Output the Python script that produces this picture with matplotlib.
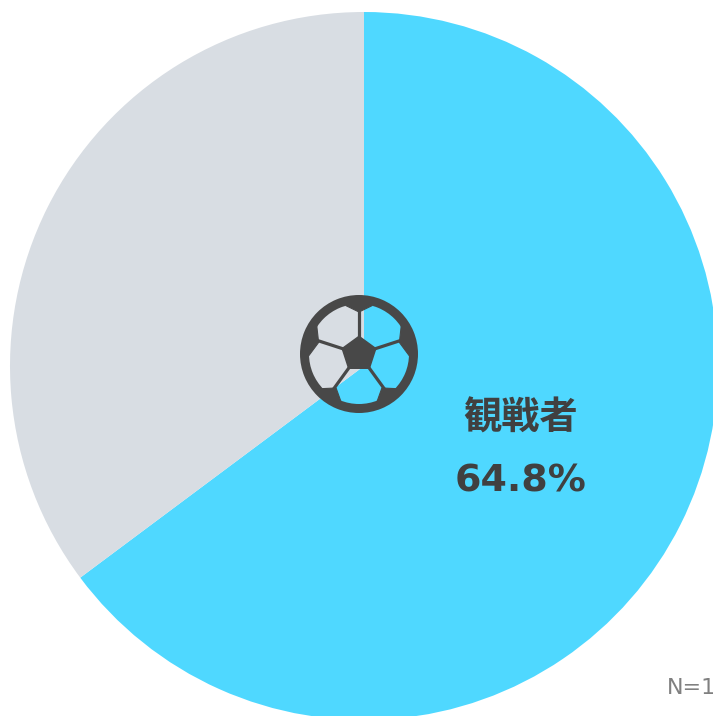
import numpy as np
import matplotlib
matplotlib.use("Agg")
import matplotlib.pyplot as plt
from matplotlib.patches import Wedge, Polygon

W, H = 713, 716
shares = [64.8, 35.2]
slice_colors = ["#4FD8FF", "#D8DDE3"]
slice_label = "観戦者"
value_label = "64.8%"
note = "N=1"
DARK = "#484848"

fig = plt.figure(figsize=(W / 100, H / 100), dpi=100, facecolor="white")
ax = fig.add_axes([0, 0, 1, 1])
ax.pie(shares, colors=slice_colors, startangle=90, counterclock=False,
       center=(364, H - 366), radius=354, wedgeprops=dict(linewidth=0))
ax.set_xlim(0, W)
ax.set_ylim(0, H)
ax.set_aspect("equal")
ax.axis("off")

# Football icon
cx, cy, R = 359, H - 354, 59
def pt(r, deg):
    a = np.deg2rad(deg)
    return (cx + r * np.cos(a), cy + r * np.sin(a))

ax.add_patch(Wedge((cx, cy), R, 0, 360, width=9, facecolor=DARK, linewidth=0, zorder=5))
spots = [90, 18, -54, -126, 162]
# inner point (r, angle) and the two shoulders (r, angle) of each rim patch
rim = {
    90: [(42, 90), (50, 75), (50, 105)],
    18: [(42, 16), (51, 34), (51, -3)],
    -54: [(41, -56), (53, -41), (54, -72)],
    -126: [(41, -124), (54, -108), (53, -139)],
    162: [(42, 164), (51, 146), (51, 183)],
}
ax.add_patch(Polygon([pt(17.5, s) for s in spots], closed=True, facecolor=DARK,
                     edgecolor=DARK, linewidth=1.2, zorder=6))
for s in spots:
    p0, p1 = pt(16, s), pt(44, s)
    ax.plot([p0[0], p1[0]], [p0[1], p1[1]], color=DARK, lw=2.3, solid_capstyle="butt", zorder=6)
    inner, a, b = rim[s]
    mid = (a[1] + b[1]) / 2
    ax.add_patch(Polygon([pt(*inner), pt(*a), pt(55, a[1]), pt(55, mid), pt(55, b[1]), pt(*b)],
                         closed=True, facecolor=DARK, edgecolor=DARK, linewidth=0.8, zorder=6))

ax.text(521, H - 418.5, slice_label, fontsize=27.5, fontweight="bold", color="#404040",
        family=["Noto Sans CJK JP", "DejaVu Sans"], ha="center", va="center", zorder=7)
ax.text(521, H - 482, value_label, fontsize=27.4, fontweight="bold", color="#404040",
        family="DejaVu Sans", ha="center", va="center", zorder=7)
ax.text(667, H - 688, note, fontsize=16, color="#808080", family="DejaVu Sans",
        ha="left", va="center", zorder=7)

fig.savefig("out.png", dpi=100, facecolor="white")
